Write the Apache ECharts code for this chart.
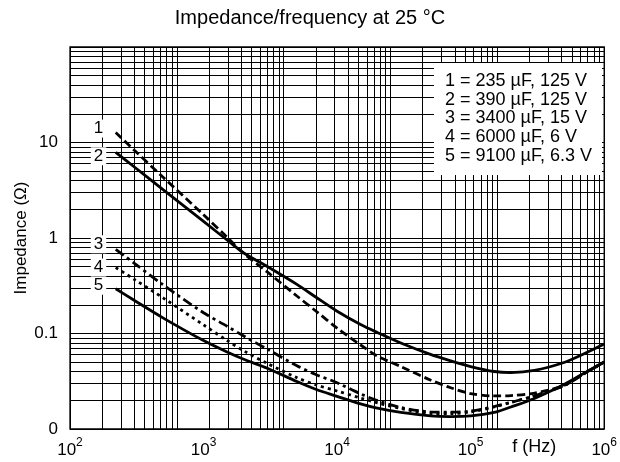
<!DOCTYPE html>
<html>
<head>
<meta charset="utf-8">
<title>Impedance/frequency</title>
<script src="https://cdn.jsdelivr.net/npm/echarts@6/dist/echarts.min.js"></script>
<style>
  html, body { margin: 0; padding: 0; background: #fff; }
  #chart { width: 620px; height: 462px; }
</style>
</head>
<body>
<div id="chart"></div>
<script>
const freq = [220, 300, 500, 1000, 1500, 2000, 3000, 5000, 7000, 1e4, 1.5e4, 2e4, 3e4,
  5e4, 7e4, 1e5, 1.5e5, 2e5, 3e5, 5e5, 7e5, 1e6];
// impedance (ohm) of each capacitor
const curve1 = [12.7, 8.41, 4.30, 1.75, 1.02, 0.688, 0.441, 0.247, 0.170, 0.114, 0.0758, 0.0581,
  0.0451, 0.0326, 0.0272, 0.0235, 0.0222, 0.0224, 0.0238, 0.0285, 0.0377, 0.0503];
const curve2 = [7.9, 5.61, 3.19, 1.49, 0.953, 0.697, 0.503, 0.327, 0.238, 0.171, 0.124, 0.1024,
  0.0795, 0.0604, 0.0520, 0.0451, 0.0400, 0.0390, 0.0410, 0.0497, 0.0610, 0.0776];
const curve3 = [0.762, 0.550, 0.322, 0.165, 0.119, 0.0941, 0.0685, 0.0459, 0.0370, 0.0305, 0.0233,
  0.0199, 0.0168, 0.0151, 0.0150, 0.0154, 0.0172, 0.0190, 0.0222, 0.0285, 0.0377, 0.0503];
const curve4 = [0.491, 0.372, 0.235, 0.123, 0.0845, 0.0659, 0.0486, 0.0345, 0.0289, 0.0250, 0.0211,
  0.0188, 0.0164, 0.0145, 0.0145, 0.0151, 0.0170, 0.0190, 0.0222, 0.0285, 0.0377, 0.0503];
const curve5 = [0.294, 0.224, 0.145, 0.0843, 0.0640, 0.0537, 0.0433, 0.0314, 0.0259, 0.0220, 0.0183,
  0.0165, 0.0149, 0.0137, 0.0135, 0.0137, 0.0149, 0.0170, 0.0209, 0.0292, 0.0381, 0.0503];
const curveNames = ['1', '2', '3', '4', '5'];
const legendLines = ['1 = 235 µF, 125 V', '2 = 390 µF, 125 V', '3 = 3400 µF, 15 V',
  '4 = 6000 µF, 6 V', '5 = 9100 µF, 6.3 V'];

// tick labels
const xTickExp = [2, 3, 4, 5, 6];
const yTickExp = [-2, -1, 0, 1, 2];
const yTickText = ['0', '0.1', '1', '10', ''];

// the printed paper grid: 5 decades across, 4 decades down
const gridDecadesX = [1, 10, 100, 1000, 10000];
const gridDecadesY = [0.01, 0.1, 1, 10];
const gridSteps = [1, 2, 3, 4, 5, 6, 7, 8, 9];

const FONT = 'Liberation Sans';

const gridX = gridDecadesX.flatMap(d => gridSteps.map(m => m * d)).concat([1e5]);
const gridY = gridDecadesY.flatMap(d => gridSteps.map(m => m * d)).concat([100]);

const chart = echarts.init(document.getElementById('chart'));

// line style per curve: dashed, solid, dash-dot, dotted, solid
const styles = [
  { type: [8, 4], labelOffset: [0, -4] },
  { type: 'solid', labelOffset: [0, 4] },
  { type: [10, 4, 3, 4], labelOffset: [0, -5] },
  { type: [3, 4], labelOffset: [0, 0] },
  { type: 'solid', labelOffset: [0, -3] }
];
const curves = [curve1, curve2, curve3, curve4, curve5];

const curveSeries = curves.map((vals, i) => ({
  name: curveNames[i],
  type: 'line',
  xAxisIndex: 0,
  yAxisIndex: 0,
  data: freq.map((f, j) => [f, vals[j]]),
  showSymbol: false,
  smooth: 0.3,
  z: 3,
  lineStyle: { color: '#000', width: 2.8, type: styles[i].type, cap: 'butt' },
  markPoint: {
    symbol: 'rect',
    symbolSize: 1,
    itemStyle: { color: 'rgba(0,0,0,0)' },
    z: 6,
    data: [{ name: curveNames[i], coord: [freq[0], vals[0]] }],
    label: {
      show: true,
      formatter: '{b}',
      position: 'left',
      distance: 9,
      offset: styles[i].labelOffset,
      color: '#000',
      fontFamily: FONT,
      fontSize: 17,
      backgroundColor: '#fff',
      padding: [1, 3, 0, 3]
    }
  }
}));

const option = {
  animation: false,
  backgroundColor: '#fff',
  title: {
    text: 'Impedance/frequency at 25 °C',
    left: 'center',
    top: 3,
    textStyle: { fontFamily: FONT, fontSize: 20, fontWeight: 'normal', color: '#000' }
  },
  grid: {
    left: 70, top: 47, right: 11, bottom: 33,
    show: true, borderColor: '#000', borderWidth: 1.3, backgroundColor: '#fff'
  },
  xAxis: [
    {
      type: 'log', logBase: 10, min: 100, max: 1e6,
      axisLine: { show: false },
      axisTick: { show: false },
      splitLine: { show: false },
      axisLabel: {
        margin: 8,
        showMinLabel: true, showMaxLabel: true,
        formatter: v => {
          const e = Math.round(Math.log10(v));
          return xTickExp.includes(e) ? '{b|10}{s|' + e + '}' : '';
        },
        rich: {
          b: { fontFamily: FONT, fontSize: 17, color: '#000', lineHeight: 22, verticalAlign: 'bottom' },
          s: { fontFamily: FONT, fontSize: 12, color: '#000', lineHeight: 22, verticalAlign: 'top' }
        }
      },
      name: 'f (Hz)',
      nameLocation: 'end',
      nameGap: -92,
      nameMoveOverlap: false,
      nameTextStyle: {
        fontFamily: FONT, fontSize: 18, color: '#000',
        verticalAlign: 'top', align: 'left', padding: [9, 0, 0, 0]
      }
    },
    {
      // hidden axis carrying the 5-decade printed grid
      type: 'log', logBase: 10, min: 1, max: 1e5, show: false
    }
  ],
  yAxis: {
    type: 'log', logBase: 10, min: 0.01, max: 100,
    axisLine: { show: false },
    axisTick: { show: false },
    splitLine: { show: false },
    axisLabel: {
      margin: 12,
      fontFamily: FONT, fontSize: 17, color: '#000',
      showMinLabel: true, showMaxLabel: true,
      formatter: v => {
        const k = yTickExp.indexOf(Math.round(Math.log10(v)));
        return k >= 0 ? yTickText[k] : '';
      }
    },
    name: 'Impedance (Ω)',
    nameLocation: 'middle',
    nameGap: 40,
    nameMoveOverlap: false,
    nameTextStyle: { fontFamily: FONT, fontSize: 17, color: '#000' }
  },
  graphic: [
    {
      type: 'group',
      left: 434,
      top: 63,
      z: 100,
      children: [
        { type: 'rect', shape: { x: 0, y: 0, width: 168, height: 112 }, style: { fill: '#fff' }, z: 100 },
        {
          type: 'text', x: 11, y: 9, z: 101,
          style: {
            text: legendLines.join('\n'),
            font: '18px "Liberation Sans"',
            lineHeight: 18.6,
            fill: '#000'
          }
        }
      ]
    }
  ],
  series: [
    {
      type: 'line',
      xAxisIndex: 1,
      yAxisIndex: 0,
      data: [],
      z: 1,
      silent: true,
      markLine: {
        silent: true,
        symbol: 'none',
        label: { show: false },
        lineStyle: { color: '#000', width: 1, type: 'solid' },
        emphasis: { disabled: true },
        data: gridX.map(v => ({ xAxis: v })).concat(gridY.map(v => ({ yAxis: v })))
      }
    }
  ].concat(curveSeries)
};

chart.setOption(option);
</script>
</body>
</html>
